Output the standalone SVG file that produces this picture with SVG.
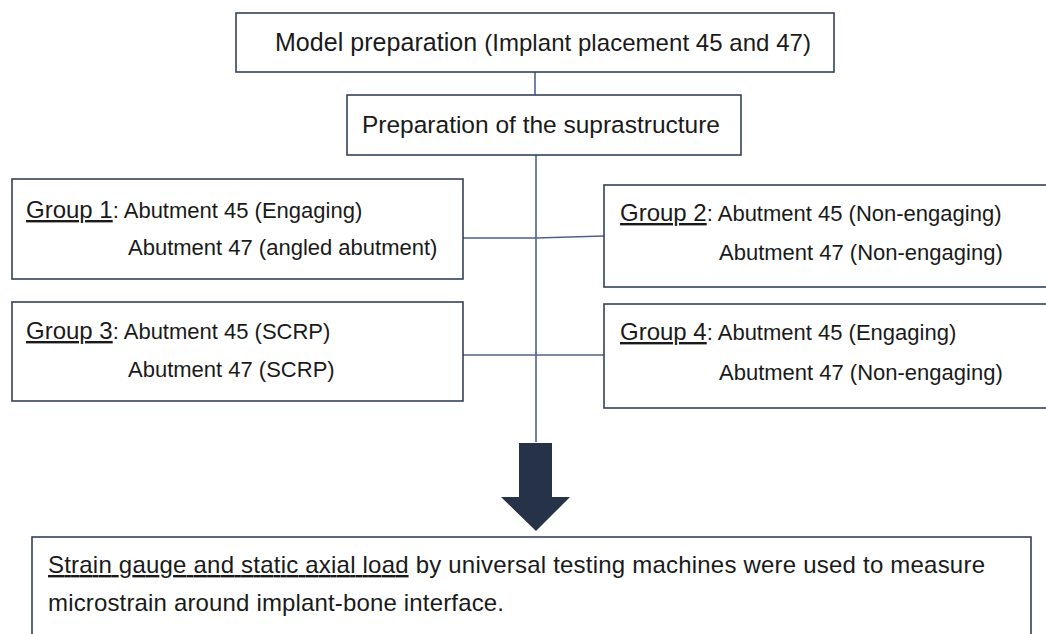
<svg xmlns="http://www.w3.org/2000/svg" width="1046" height="634" viewBox="0 0 1046 634">
  <style>
    .box { fill: #ffffff; stroke: #34425a; stroke-width: 1.6; }
    .link { fill: none; stroke: #4f6289; stroke-width: 1.6; }
    text { font-family: "Liberation Sans", Arial, sans-serif; fill: #1a1a1a; }
    .title { font-size: 24.5px; }
    .grp { font-size: 24px; }
    .body { font-size: 22px; }
    .note { font-size: 24px; }
    .u { text-decoration: underline; }
  </style>
  <rect width="1046" height="634" fill="#ffffff"/>

  <!-- connectors -->
  <g id="connectors">
    <line class="link" x1="535" y1="72" x2="535" y2="95"/>
    <line class="link" x1="536" y1="155" x2="536" y2="442"/>
    <polyline class="link" points="463,238 536,238 604,236"/>
    <line class="link" x1="463" y1="355" x2="604" y2="355"/>
    <polygon points="519,443 552,443 552,497 570,497 536,531 501,497 519,497" fill="#263248"/>
  </g>

  <g id="model-preparation">
    <rect class="box" x="236" y="13" width="598" height="59"/>
    <text x="275" y="51" textLength="536" lengthAdjust="spacing"><tspan font-size="25">Model preparation </tspan><tspan font-size="24">(Implant placement 45 and 47)</tspan></text>
  </g>

  <g id="suprastructure">
    <rect class="box" x="347" y="95" width="394" height="60"/>
    <text class="title" x="362" y="133" textLength="358" lengthAdjust="spacing">Preparation of the suprastructure</text>
  </g>

  <g id="group-1">
    <rect class="box" x="12" y="179" width="451" height="100"/>
    <text x="26" y="218"><tspan class="grp u">Group 1</tspan><tspan class="body">: Abutment 45 (Engaging)</tspan></text>
    <text class="body" x="128" y="255">Abutment 47 (angled abutment)</text>
  </g>

  <g id="group-2">
    <rect class="box" x="604" y="185" width="460" height="102"/>
    <text x="620" y="221"><tspan class="grp u">Group 2</tspan><tspan class="body">: Abutment 45 (Non-engaging)</tspan></text>
    <text class="body" x="719" y="260">Abutment 47 (Non-engaging)</text>
  </g>

  <g id="group-3">
    <rect class="box" x="12" y="302" width="451" height="99"/>
    <text x="26" y="339"><tspan class="grp u">Group 3</tspan><tspan class="body">: Abutment 45 (SCRP)</tspan></text>
    <text class="body" x="128" y="377">Abutment 47 (SCRP)</text>
  </g>

  <g id="group-4">
    <rect class="box" x="604" y="304" width="460" height="104"/>
    <text x="620" y="340"><tspan class="grp u">Group 4</tspan><tspan class="body">: Abutment 45 (Engaging)</tspan></text>
    <text class="body" x="719" y="380">Abutment 47 (Non-engaging)</text>
  </g>

  <g id="measurement">
    <rect class="box" x="32" y="537" width="999" height="120"/>
    <text class="note" x="48" y="573" textLength="937" lengthAdjust="spacing"><tspan class="u">Strain gauge and static axial load</tspan> by universal testing machines were used to measure</text>
    <text class="note" x="48" y="611" textLength="456" lengthAdjust="spacing">microstrain around implant-bone interface.</text>
  </g>
</svg>
